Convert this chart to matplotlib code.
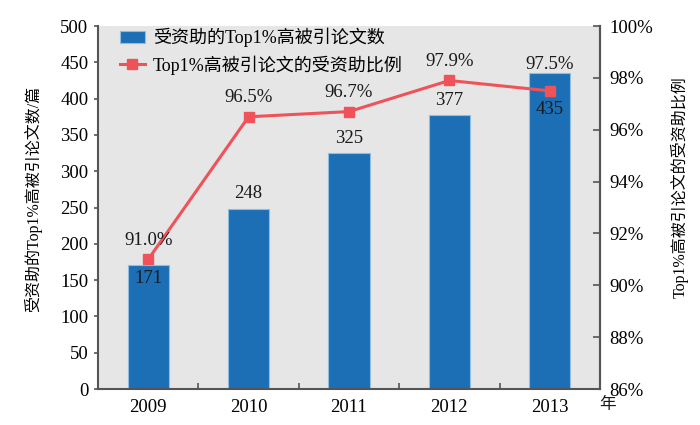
import matplotlib
matplotlib.use("Agg")
import matplotlib.pyplot as plt
from matplotlib.ticker import FuncFormatter, FixedLocator
from matplotlib.transforms import blended_transform_factory

years = ["2009", "2010", "2011", "2012", "2013"]
counts = [171, 248, 325, 377, 435]
ratios = [91.0, 96.5, 96.7, 97.9, 97.5]

bar_label = "受资助的Top1%高被引论文数"
line_label = "Top1%高被引论文的受资助比例"
left_ylabel = "受资助的Top1%高被引论文数/篇"
right_ylabel = "Top1%高被引论文的受资助比例"
x_unit = "年"

FAM = ["Liberation Serif", "Noto Sans CJK SC", "DejaVu Sans"]
plt.rcParams["font.family"] = FAM
plt.rcParams["font.size"] = 13.5

BAR = "#1c6fb5"
LINE = "#f0525a"
BG = "#e6e6e6"
TXT = "#1a1a1a"
SP = "#555555"

C_MAX = 500
R_MIN, R_MAX = 86, 100

fig = plt.figure(figsize=(7, 4.25), dpi=100)
ax = fig.add_axes([0.14, 0.0847, 0.717, 0.854])
ax.set_facecolor(BG)
x = list(range(len(years)))
bars = ax.bar(x, counts, width=0.41, color=BAR, edgecolor="#8fbde0", linewidth=0.8,
              label=bar_label, zorder=2)
ax.set_xlim(-0.5, len(years) - 0.5)
ax.set_ylim(0, C_MAX)
ax.set_yticks(range(0, C_MAX + 1, 50))
ax.set_xticks(x)
ax.set_xticklabels(years)
ax.tick_params(axis="x", which="major", length=0, pad=7)
ax.xaxis.set_minor_locator(FixedLocator([i + 0.5 for i in range(len(years) - 1)]))
ax.tick_params(axis="x", which="minor", direction="in", length=4, color=SP, width=1.2)
ax.tick_params(axis="y", direction="out", length=3, color=SP, width=1.2, pad=4)
ax.spines["top"].set_visible(False)
for s in ["left", "bottom", "right"]:
    ax.spines[s].set_color(SP)
    ax.spines[s].set_linewidth(1.5)
ax.set_ylabel(left_ylabel, fontsize=11.5)
ax.yaxis.set_label_coords(-0.112, 0.523)

ax2 = ax.twinx()
ax2.set_ylim(R_MIN, R_MAX)
ax2.set_yticks(range(R_MIN, R_MAX + 1, 2))
ax2.yaxis.set_major_formatter(FuncFormatter(lambda v, p: f"{int(v)}%"))
ax2.tick_params(axis="y", direction="in", length=5, color=SP, width=1.2, pad=7)
for s in ["top", "left", "bottom"]:
    ax2.spines[s].set_visible(False)
ax2.spines["right"].set_color(SP)
ax2.spines["right"].set_linewidth(1.5)
line, = ax2.plot(x, ratios, color=LINE, linewidth=2.2, marker="s", markersize=7,
                 label=line_label, zorder=4)
ax2.set_ylabel(right_ylabel, fontsize=11.5, rotation=90)
ax2.yaxis.set_label_coords(1.14, 0.556)

# value labels (positions derived from marker / bar-top positions)
H = 363.0  # axes height in px
tr = blended_transform_factory(ax.transData, ax.transAxes)
for xi, c, r in zip(x, counts, ratios):
    bar_f = c / C_MAX
    mk_f = (r - R_MIN) / (R_MAX - R_MIN)
    pct_y = max(mk_f + 19 / H, bar_f + 9 / H)
    ax2.text(xi, pct_y, f"{r:.1f}%", transform=tr, ha="center", va="center",
             fontsize=13.5, color=TXT, zorder=6)
    if abs(bar_f - mk_f) < 0.06:
        cnt_y = mk_f - 19 / H
    else:
        cnt_y = bar_f + 15 / H
    ax2.text(xi, cnt_y, str(c), transform=tr, ha="center", va="center",
             fontsize=13.5, color=TXT, zorder=6)

leg = ax2.legend([bars, line], [bar_label, line_label], loc="upper left",
                 bbox_to_anchor=(0.012, 1.04), frameon=False, fontsize=13,
                 handlelength=1.35, handletextpad=0.45, labelspacing=0.45)

fig.text(0.868, 0.047, x_unit, fontsize=12, ha="center", va="center", color=TXT)

fig.savefig("out.png", dpi=100)
